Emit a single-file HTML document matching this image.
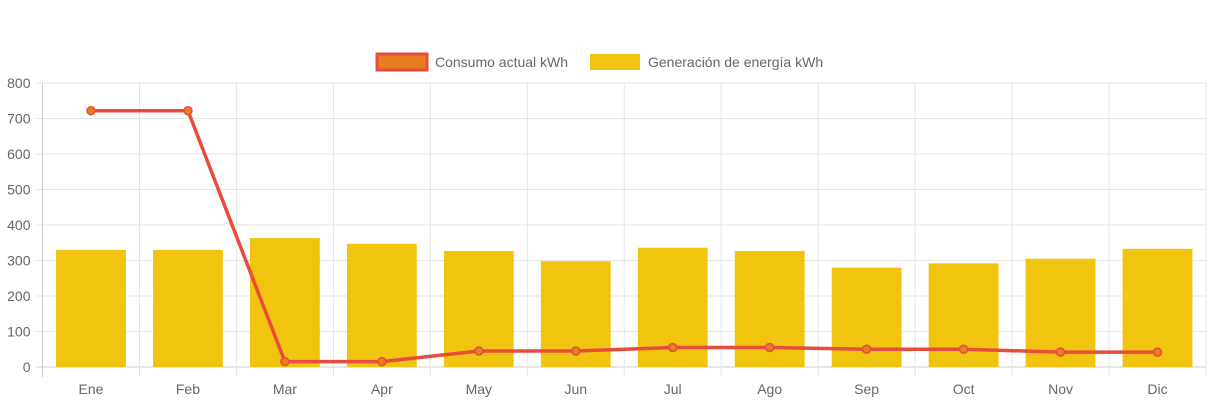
<!DOCTYPE html>
<html><head><meta charset="utf-8"><style>
body{margin:0;background:#fff;font-family:"Liberation Sans",Arial,sans-serif}
</style></head><body>
<svg id="c" width="1213" height="403" xmlns="http://www.w3.org/2000/svg">
<g>
 <g>
  <rect x="377" y="54" width="50" height="16" fill="#e67e22" stroke="#e74c3c" stroke-width="3"/>
  <text x="435" y="67" font-size="14" fill="#666">Consumo actual kWh</text>
 </g>
 <g>
  <rect x="590" y="54" width="50" height="16" fill="#f1c40f"/>
  <text x="648" y="67" font-size="14" fill="#666">Generación de energía kWh</text>
 </g>
</g>
<g id="grid"></g>
<g id="bars"></g>
<g id="line"></g>
<g id="axes"></g>
</svg>
<script>
const categories=["Ene","Feb","Mar","Apr","May","Jun","Jul","Ago","Sep","Oct","Nov","Dic"];
const generacion=[330,330,363,347,327,298,336,327,280,292,305,333];
const consumo=[722,722,15,15,45,45,55,55,50,50,42,42];
const yTicks=[0,100,200,300,400,500,600,700,800];
const NS="http://www.w3.org/2000/svg";
const L=42.5,R=1206,T=83,B=367,yMax=800;
const cw=(R-L)/categories.length;
const x=i=>L+cw*(i+0.5);
const y=v=>B-(v/yMax)*(B-T);
function mk(tag,attrs,parent){const e=document.createElementNS(NS,tag);for(const k in attrs)e.setAttribute(k,attrs[k]);parent.appendChild(e);return e;}
const grid=document.getElementById('grid'),axes=document.getElementById('axes'),bars=document.getElementById('bars'),line=document.getElementById('line');
yTicks.forEach(t=>{
 const g=mk('line',{x1:L-6,x2:R,y1:y(t),y2:y(t),stroke:t===0?'#ccc':'#e5e5e5','stroke-width':1},grid);
 
 
 const tx=mk('text',{x:L-12,y:y(t)+5,'text-anchor':'end','font-size':14,fill:'#666'},axes);
 tx.textContent=t;
 
 
});
for(let i=0;i<=categories.length;i++){
 const xx=L+cw*i;
 const g=mk('line',{x1:xx,x2:xx,y1:T,y2:B+10,stroke:i===0?'#ccc':'#e5e5e5','stroke-width':1},grid);
 
 
}
categories.forEach((c,i)=>{
 const tx=mk('text',{x:x(i),y:394,'text-anchor':'middle','font-size':14,fill:'#666'},axes);
 tx.textContent=c;
 
 
 const bw=cw*0.72;
 const b=mk('rect',{x:x(i)-bw/2,y:y(generacion[i]),width:bw,height:B-y(generacion[i]),fill:'#f1c40f'},bars);
 
 
});
const pts=consumo.map((v,i)=>x(i)+','+y(v)).join(' ');
const pl=mk('polyline',{points:pts,fill:'none',stroke:'#e74c3c','stroke-width':3.5},line);


consumo.forEach((v,i)=>{
 const p=mk('circle',{cx:x(i),cy:y(v),r:4,fill:'#e67e22',stroke:'#e74c3c','stroke-width':1.5},line);
 
 
});
</script>
</body></html>
